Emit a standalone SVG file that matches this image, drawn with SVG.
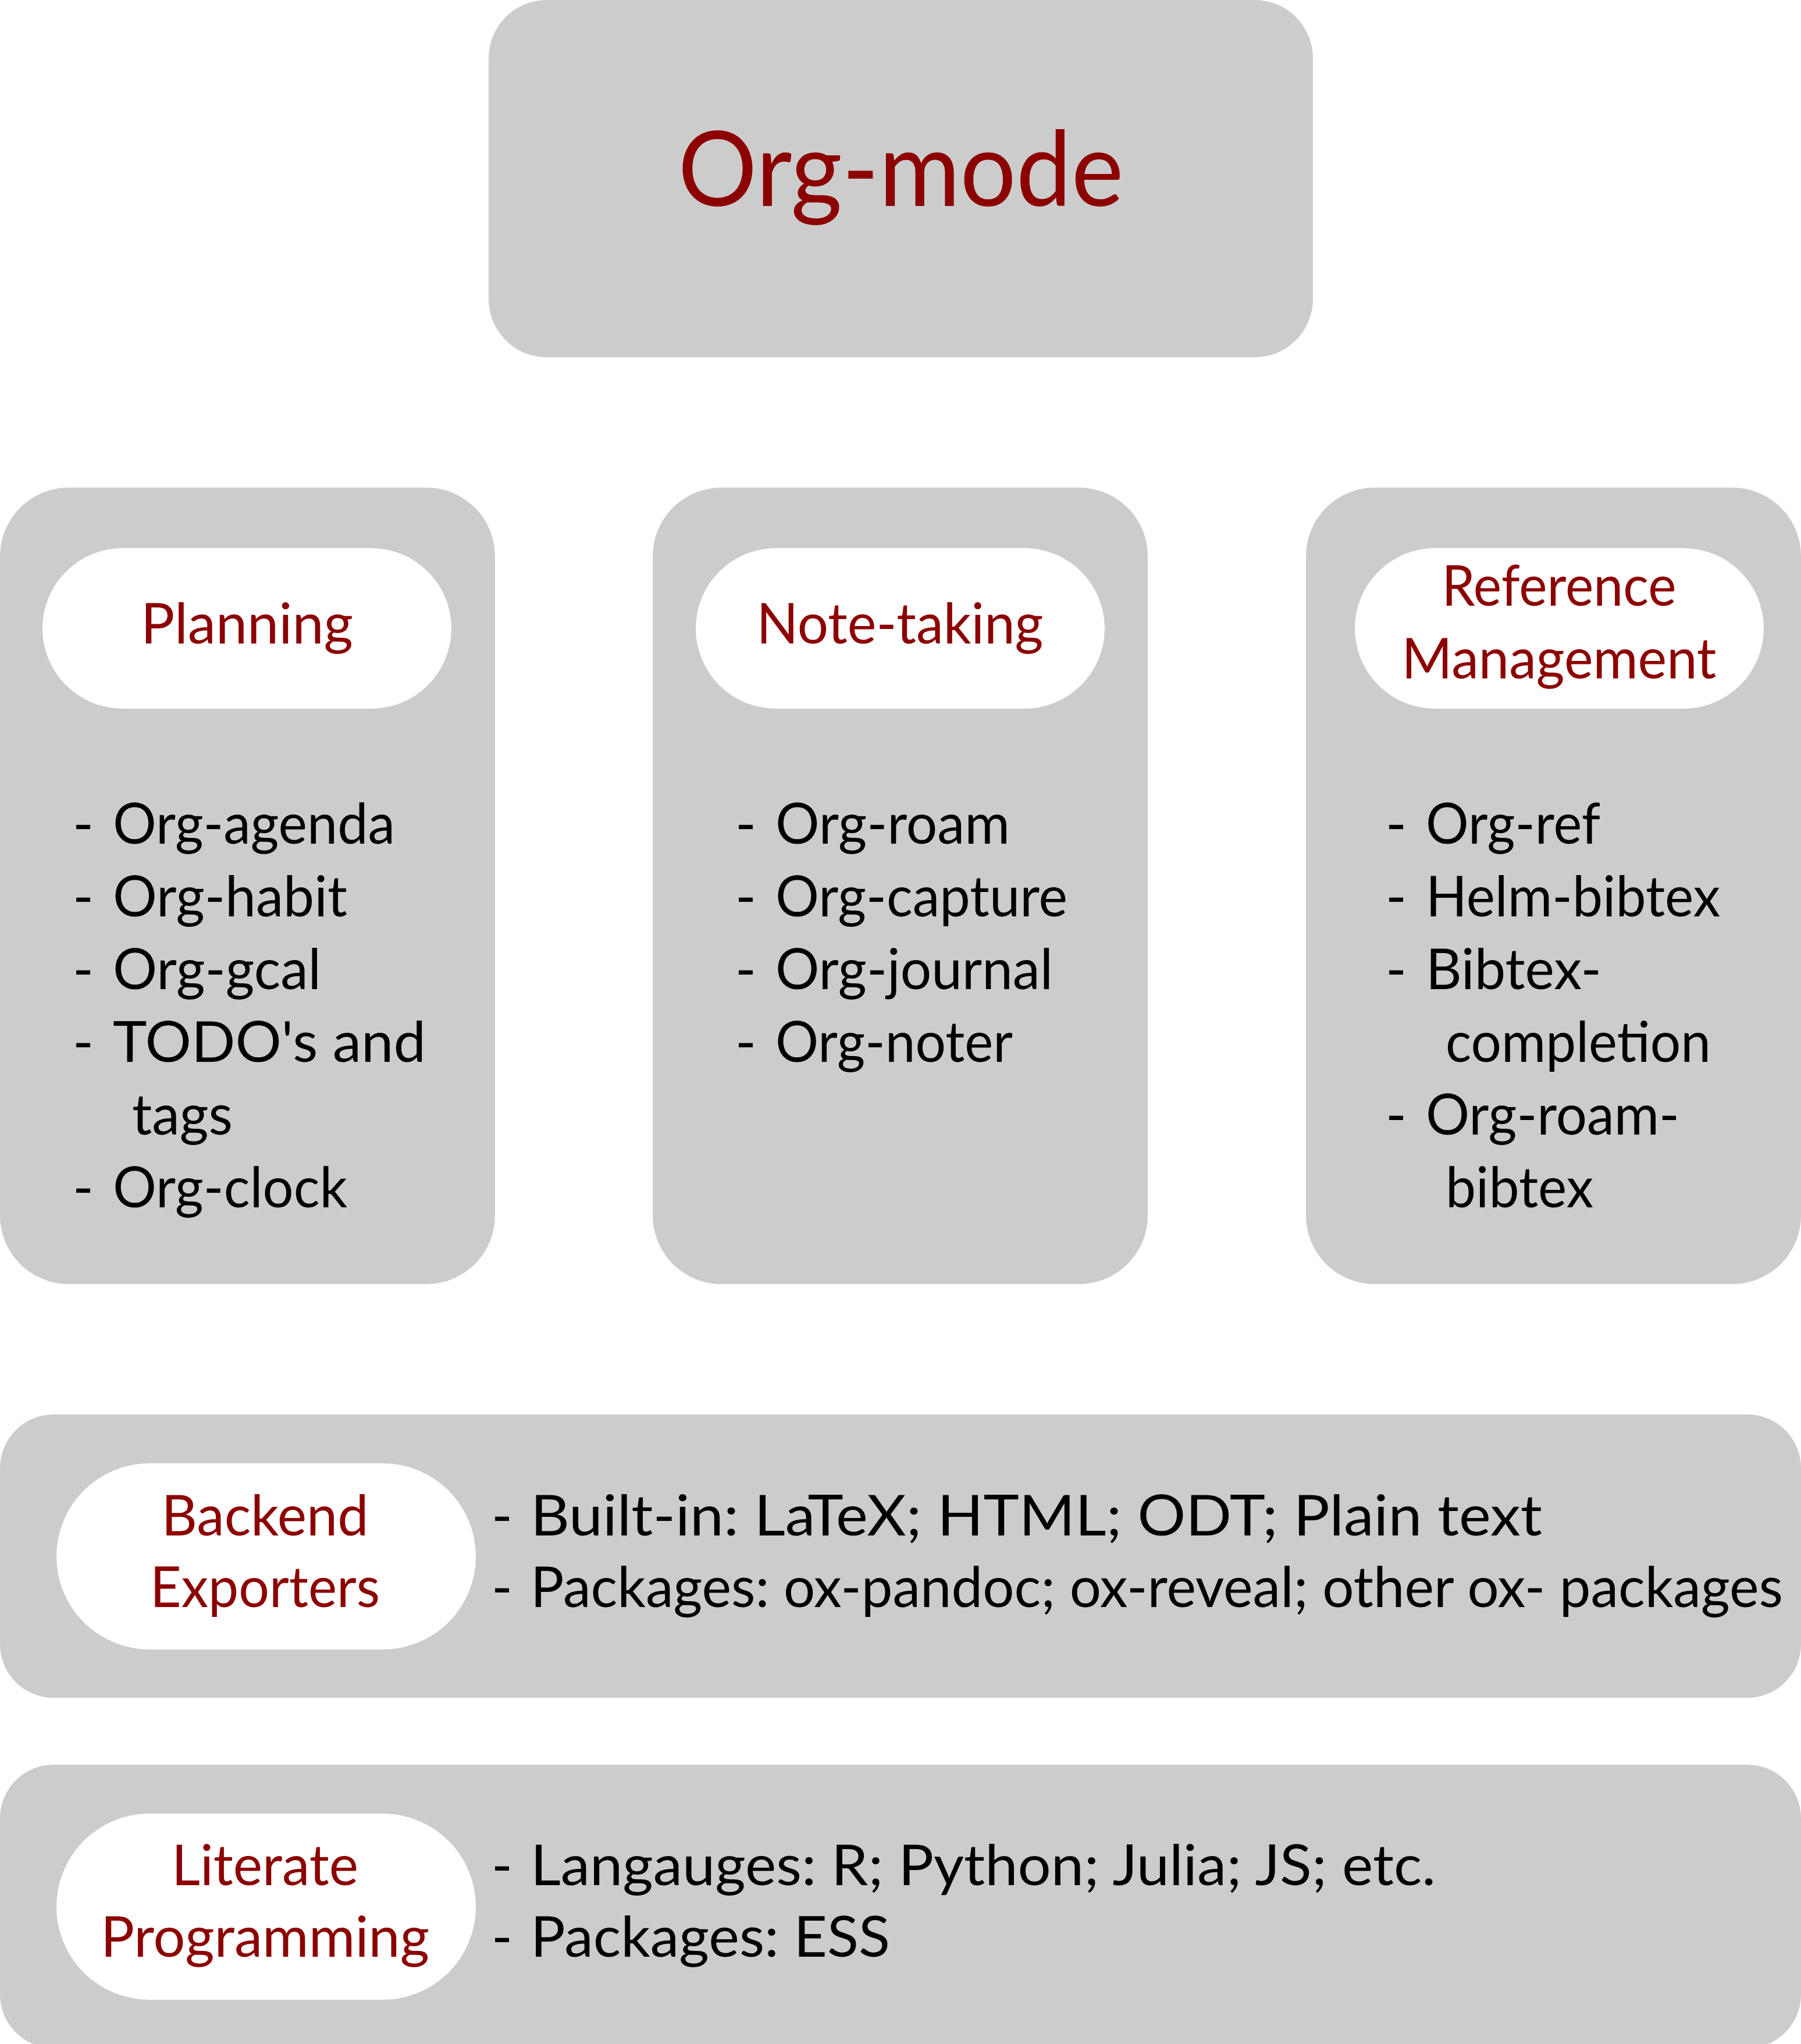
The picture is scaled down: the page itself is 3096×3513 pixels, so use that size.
<svg xmlns="http://www.w3.org/2000/svg" width="3096" height="3513" viewBox="0 0 3096 3513">
<style>
.box{fill:#cccccc}
.pill{fill:#ffffff}
text{font-family:Lato,"Liberation Sans","DejaVu Sans",sans-serif;font-size:97px}
.hd{fill:#8c0000;text-anchor:middle}
.it{fill:#000000}
.title{fill:#8c0000;text-anchor:middle;font-size:178px}
</style>
<rect width="3096" height="3513" fill="#ffffff"/>
<g id="connectors"></g>
<g id="orgmode">
<rect class="box" x="840" y="0" width="1417" height="614" rx="100"/>
<text class="title" x="1548.5" y="354" textLength="766" lengthAdjust="spacingAndGlyphs">Org-mode</text>
</g>
<g id="planning">
<rect class="box" x="0" y="838" width="851" height="1369" rx="118"/>
<rect class="pill" x="73" y="942" width="703" height="276" rx="138"/>
<text class="hd" x="424.5" y="1106" textLength="365" lengthAdjust="spacingAndGlyphs">Planning</text>
<text class="it" x="125" y="1450">- <tspan x="194" textLength="485" lengthAdjust="spacingAndGlyphs">Org-agenda</tspan></text>
<text class="it" x="125" y="1575">- <tspan x="194" textLength="403" lengthAdjust="spacingAndGlyphs">Org-habit</tspan></text>
<text class="it" x="125" y="1700">- <tspan x="194" textLength="358" lengthAdjust="spacingAndGlyphs">Org-gcal</tspan></text>
<text class="it" x="125" y="1825">- <tspan x="194" textLength="538" lengthAdjust="spacingAndGlyphs">TODO's and</tspan></text>
<text class="it" x="227" y="1950" textLength="173" lengthAdjust="spacingAndGlyphs">tags</text>
<text class="it" x="125" y="2075">- <tspan x="194" textLength="403" lengthAdjust="spacingAndGlyphs">Org-clock</tspan></text>
</g>
<g id="notetaking">
<rect class="box" x="1122" y="838" width="851" height="1369" rx="118"/>
<rect class="pill" x="1196" y="942" width="703" height="276" rx="138"/>
<text class="hd" x="1547" y="1106" textLength="493" lengthAdjust="spacingAndGlyphs">Note-taking</text>
<text class="it" x="1264" y="1450">- <tspan x="1333" textLength="403" lengthAdjust="spacingAndGlyphs">Org-roam</tspan></text>
<text class="it" x="1264" y="1575">- <tspan x="1333" textLength="502" lengthAdjust="spacingAndGlyphs">Org-capture</tspan></text>
<text class="it" x="1264" y="1700">- <tspan x="1333" textLength="477" lengthAdjust="spacingAndGlyphs">Org-journal</tspan></text>
<text class="it" x="1264" y="1825">- <tspan x="1333" textLength="408" lengthAdjust="spacingAndGlyphs">Org-noter</tspan></text>
</g>
<g id="refmgmt">
<rect class="box" x="2245" y="838" width="851" height="1369" rx="118"/>
<rect class="pill" x="2329" y="942" width="703" height="276" rx="138"/>
<text class="hd" x="2680" y="1041" textLength="403" lengthAdjust="spacingAndGlyphs">Reference</text>
<text class="hd" x="2680" y="1166" textLength="541" lengthAdjust="spacingAndGlyphs">Management</text>
<text class="it" x="2382" y="1450">- <tspan x="2451" textLength="300" lengthAdjust="spacingAndGlyphs">Org-ref</tspan></text>
<text class="it" x="2382" y="1575">- <tspan x="2451" textLength="506" lengthAdjust="spacingAndGlyphs">Helm-bibtex</tspan></text>
<text class="it" x="2382" y="1700">- <tspan x="2451" textLength="302" lengthAdjust="spacingAndGlyphs">Bibtex-</tspan></text>
<text class="it" x="2485" y="1825" textLength="456" lengthAdjust="spacingAndGlyphs">completion</text>
<text class="it" x="2382" y="1950">- <tspan x="2451" textLength="436" lengthAdjust="spacingAndGlyphs">Org-roam-</tspan></text>
<text class="it" x="2485" y="2075" textLength="254" lengthAdjust="spacingAndGlyphs">bibtex</text>
</g>
<g id="backend">
<rect class="box" x="0" y="2431" width="3096" height="487" rx="92"/>
<rect class="pill" x="97" y="2515" width="721" height="320" rx="160"/>
<text class="hd" x="455.5" y="2639" textLength="356" lengthAdjust="spacingAndGlyphs">Backend</text>
<text class="hd" x="455.5" y="2762" textLength="395" lengthAdjust="spacingAndGlyphs">Exporters</text>
<text class="it" x="845" y="2639">- <tspan x="912" textLength="1739" lengthAdjust="spacingAndGlyphs">Built-in: LaTeX; HTML; ODT; Plain text</tspan></text>
<text class="it" x="845" y="2762">- <tspan x="912" textLength="2153" lengthAdjust="spacingAndGlyphs">Packages: ox-pandoc; ox-reveal; other ox- packages</tspan></text>
</g>
<g id="literate">
<rect class="box" x="0" y="3033" width="3096" height="487" rx="92"/>
<rect class="pill" x="97" y="3117" width="721" height="320" rx="160"/>
<text class="hd" x="455.5" y="3240" textLength="321" lengthAdjust="spacingAndGlyphs">Literate</text>
<text class="hd" x="455.5" y="3363" textLength="565" lengthAdjust="spacingAndGlyphs">Programming</text>
<text class="it" x="845" y="3240">- <tspan x="912" textLength="1556" lengthAdjust="spacingAndGlyphs">Langauges: R; Python; Julia; JS; etc.</tspan></text>
<text class="it" x="845" y="3363">- <tspan x="912" textLength="618" lengthAdjust="spacingAndGlyphs">Packages: ESS</tspan></text>
</g>
</svg>
